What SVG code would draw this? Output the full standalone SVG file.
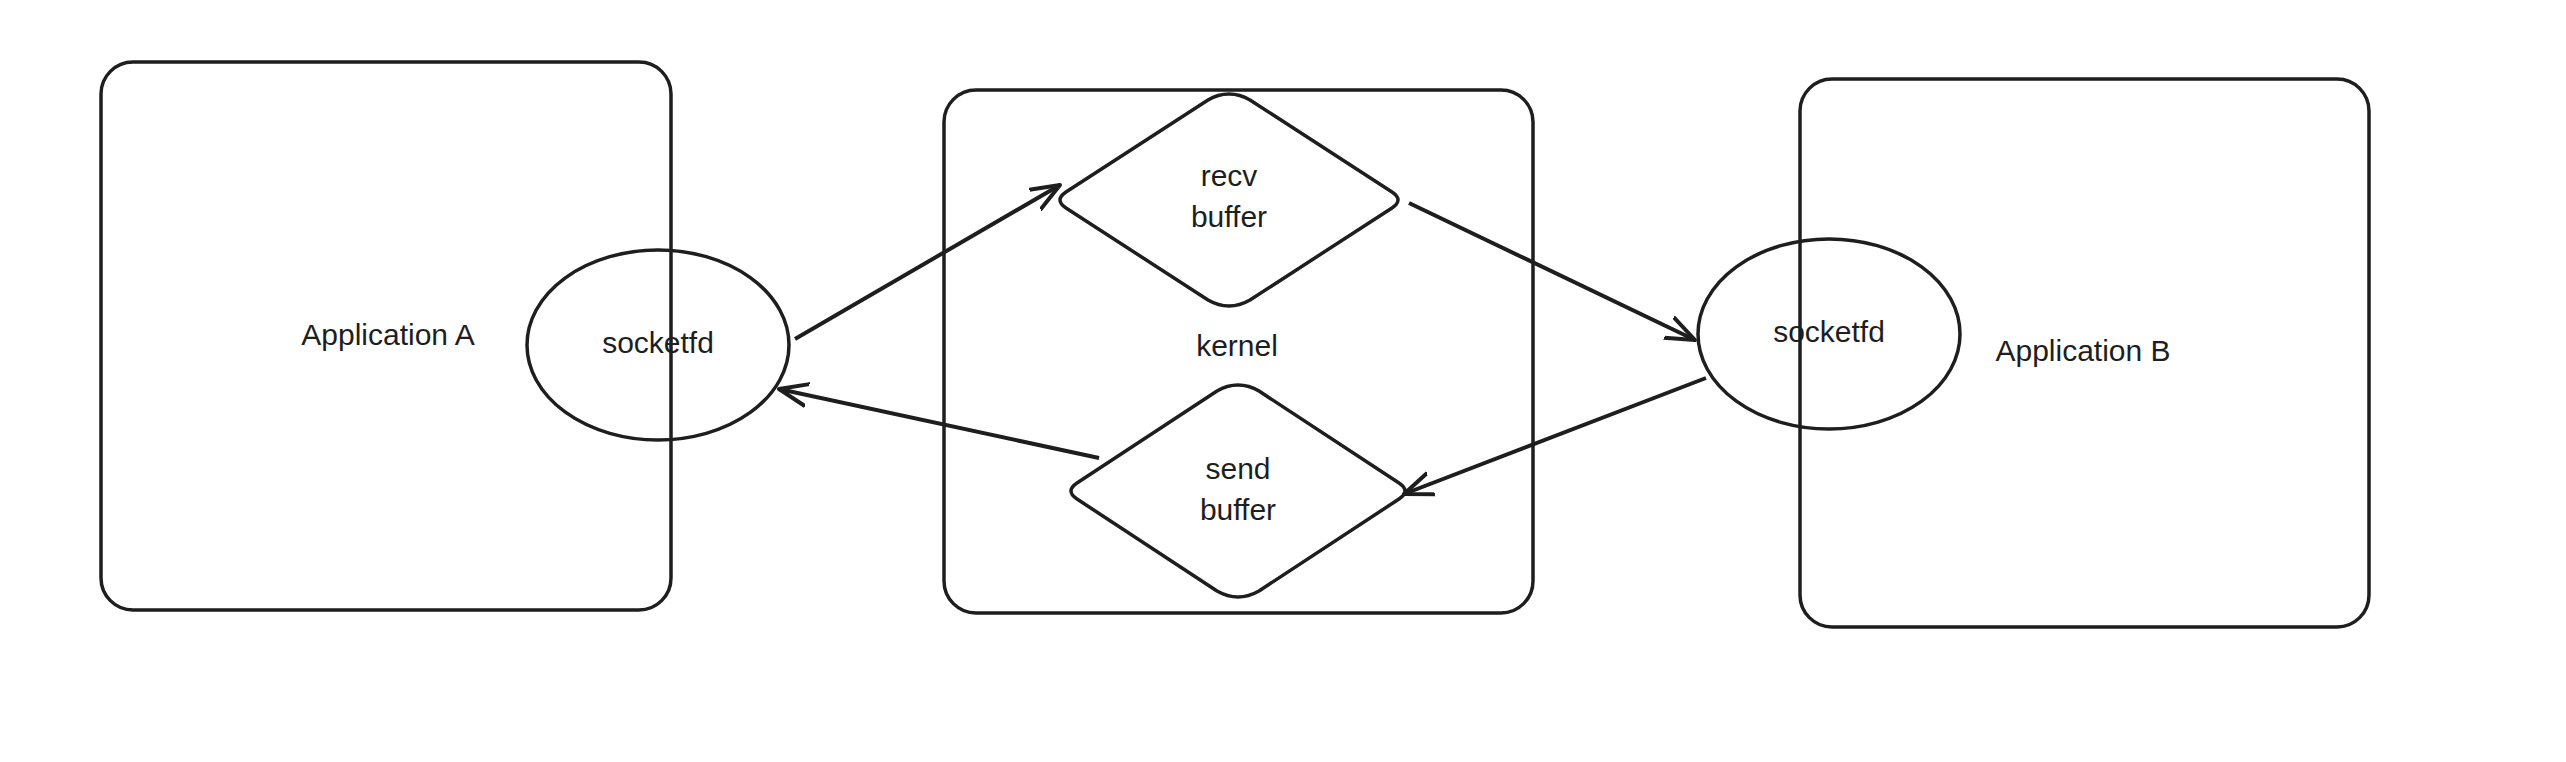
<svg xmlns="http://www.w3.org/2000/svg" width="2566" height="762" viewBox="0 0 2566 762">
<style>
.s{fill:none;stroke:#1e1e1e;stroke-width:3.5;stroke-linejoin:round}
.t{font-family:"Liberation Sans",sans-serif;font-size:30px;fill:#1e1e1e;text-anchor:middle;dominant-baseline:middle}
.c{fill:none;stroke:#1e1e1e;stroke-width:4;marker-end:url(#ah)}
</style>
<defs>
<marker id="ah" viewBox="0 0 20 20" refX="18" refY="10" markerWidth="32" markerHeight="32" orient="auto" markerUnits="userSpaceOnUse">
<path d="M0,3 L18,10 L0,17" fill="none" stroke="#1e1e1e" stroke-width="2.5" stroke-linecap="round" stroke-linejoin="round"/>
</marker>
</defs>
<rect fill="#fff" width="2566" height="762"/>
<g id="appA"><rect class="s" x="101" y="62" width="570" height="548" rx="32"/><text class="t" x="388" y="337">Application A</text></g>
<g id="kernel"><rect class="s" x="944" y="90" width="589" height="523" rx="32"/><text class="t" x="1237" y="348">kernel</text></g>
<g id="appB"><rect class="s" x="1800" y="79" width="569" height="548" rx="32"/><text class="t" x="2083" y="353">Application B</text></g>
<g id="sockA"><ellipse class="s" cx="658" cy="345" rx="131" ry="95"/><text class="t" x="658" y="345">socketfd</text></g>
<g id="sockB"><ellipse class="s" cx="1829" cy="334" rx="131" ry="95"/><text class="t" x="1829" y="334">socketfd</text></g>
<g id="recv"><path class="s" d="M1229,94 Q1240,94 1250,100 L1392,192 Q1404,200 1392,208 L1250,300 Q1229,312 1208,300 L1066,208 Q1054,200 1066,192 L1208,100 Q1218,94 1229,94Z"/><text class="t" x="1229" y="178">recv</text><text class="t" x="1229" y="219">buffer</text></g>
<g id="send"><path class="s" d="M1238,385 Q1249,385 1259,391 L1399,483 Q1411,491 1399,499 L1259,591 Q1238,603 1217,591 L1077,499 Q1065,491 1077,483 L1217,391 Q1227,385 1238,385Z"/><text class="t" x="1238" y="471">send</text><text class="t" x="1238" y="512">buffer</text></g>
<g id="connectors">
<line class="c" x1="795" y1="339" x2="1060" y2="185"/>
<line class="c" x1="1409" y1="203" x2="1695" y2="340"/>
<line class="c" x1="1706" y1="378" x2="1404" y2="494"/>
<line class="c" x1="1099" y1="458" x2="779" y2="389"/>
</g>
</svg>
